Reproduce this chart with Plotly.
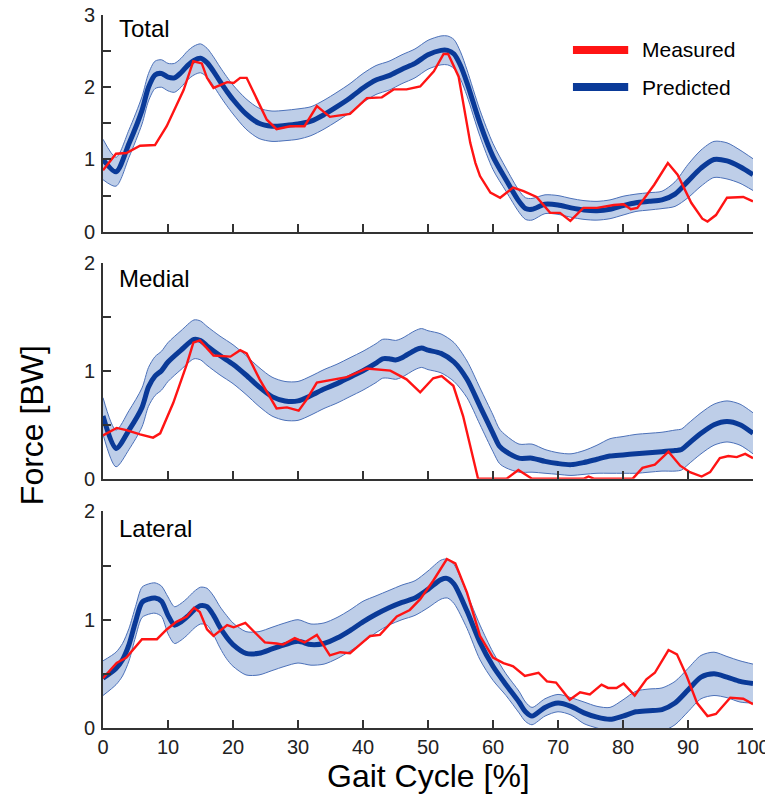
import plotly.graph_objects as go
from plotly.subplots import make_subplots

# ---------------- data ----------------
# Predicted (model) mean and half-width of the shaded band, Total force [BW]
total_pred_x = [0, 2, 4, 6, 7, 8, 9, 10, 11, 12, 13, 14, 15, 16, 17, 18, 19, 20, 22, 24, 26, 28,
                30, 32, 34, 36, 38, 40, 42, 44, 46, 48, 50, 52, 53, 54, 55, 56, 58, 60, 62, 64,
                65, 66, 68, 70, 72, 74, 76, 78, 80, 82, 84, 86, 88, 90, 92, 94, 96, 98, 100]
total_pred_y = [1.00, 0.83, 1.22, 1.68, 2.00, 2.17, 2.19, 2.14, 2.13, 2.20, 2.30, 2.37, 2.40, 2.34,
                2.22, 2.08, 1.95, 1.83, 1.63, 1.50, 1.46, 1.47, 1.49, 1.53, 1.62, 1.73, 1.85, 1.99,
                2.10, 2.16, 2.25, 2.33, 2.45, 2.51, 2.51, 2.46, 2.30, 2.06, 1.50, 1.04, 0.72, 0.42,
                0.32, 0.31, 0.38, 0.37, 0.33, 0.30, 0.29, 0.31, 0.36, 0.40, 0.42, 0.44, 0.52, 0.70,
                0.88, 1.00, 0.98, 0.90, 0.79]
total_pred_hw = [0.28, 0.20, 0.19, 0.19, 0.19, 0.19, 0.19, 0.19, 0.20, 0.20, 0.20, 0.20, 0.20, 0.20,
                 0.20, 0.20, 0.20, 0.20, 0.21, 0.21, 0.21, 0.21, 0.21, 0.20, 0.20, 0.20, 0.20, 0.20,
                 0.20, 0.20, 0.20, 0.20, 0.20, 0.20, 0.20, 0.20, 0.19, 0.18, 0.18, 0.18, 0.16, 0.15,
                 0.15, 0.15, 0.13, 0.13, 0.13, 0.13, 0.13, 0.13, 0.13, 0.12, 0.12, 0.12, 0.17, 0.23,
                 0.25, 0.25, 0.25, 0.23, 0.22]

# Measured Total force [BW]
total_meas_x = [0, 2, 3.6, 5.7, 8, 9.8, 12.4, 13.9, 15.2, 16, 17, 19.1, 20.1, 21.1, 22.1, 25.2, 26.7,
                28.8, 31, 32.9, 34.9, 38, 40.6, 42.9, 44.7, 46.7, 48.8, 50.9, 52.4, 53.1, 54.7, 55.6,
                56.5, 57.3, 58, 59.6, 61.1, 63.1, 64.7, 66.7, 68.8, 70.3, 71.9, 73.9, 76, 78.6, 80.1,
                81.2, 82.2, 84.8, 86.9, 88.4, 90.5, 92.2, 93, 94.3, 96, 98.5, 100]
total_meas_y = [0.85, 1.08, 1.09, 1.19, 1.20, 1.46, 1.96, 2.36, 2.33, 2.13, 1.99, 2.07, 2.06, 2.13,
                2.13, 1.55, 1.42, 1.46, 1.46, 1.74, 1.59, 1.63, 1.85, 1.86, 1.97, 1.97, 2.01, 2.22,
                2.46, 2.46, 2.15, 1.70, 1.23, 0.95, 0.77, 0.54, 0.47, 0.61, 0.56, 0.48, 0.26, 0.26,
                0.15, 0.33, 0.33, 0.37, 0.38, 0.31, 0.33, 0.65, 0.95, 0.79, 0.40, 0.18, 0.14, 0.23,
                0.47, 0.48, 0.42]

# Predicted Medial force [BW]
medial_pred_x = [0, 2, 4, 6, 7, 8, 9, 10, 12, 14, 15, 16, 18, 20, 22, 24, 26, 28, 30, 32, 34, 36,
                 38, 40, 42, 43, 44, 45, 46, 48, 49, 50, 52, 54, 56, 58, 60, 61, 62, 64, 66, 68,
                 70, 72, 74, 76, 78, 80, 82, 84, 86, 88, 89, 90, 92, 94, 96, 98, 100]
medial_pred_y = [0.58, 0.28, 0.45, 0.66, 0.85, 0.95, 1.00, 1.08, 1.19, 1.29, 1.28, 1.23, 1.14, 1.06,
                 0.96, 0.85, 0.76, 0.72, 0.72, 0.77, 0.83, 0.88, 0.94, 1.00, 1.07, 1.11, 1.11, 1.10,
                 1.12, 1.19, 1.21, 1.19, 1.16, 1.08, 0.92, 0.67, 0.42, 0.30, 0.25, 0.19, 0.19, 0.16,
                 0.14, 0.13, 0.15, 0.18, 0.21, 0.22, 0.23, 0.24, 0.25, 0.26, 0.27, 0.32, 0.42, 0.50,
                 0.53, 0.50, 0.42]
medial_pred_hw = [0.17, 0.17, 0.18, 0.18, 0.18, 0.18, 0.18, 0.18, 0.18, 0.18, 0.18, 0.18, 0.18, 0.18,
                  0.18, 0.18, 0.18, 0.18, 0.18, 0.18, 0.18, 0.18, 0.18, 0.18, 0.18, 0.18, 0.18, 0.18,
                  0.18, 0.18, 0.18, 0.18, 0.18, 0.18, 0.17, 0.17, 0.17, 0.16, 0.15, 0.13, 0.13, 0.11,
                  0.10, 0.10, 0.11, 0.13, 0.16, 0.17, 0.18, 0.18, 0.18, 0.19, 0.19, 0.19, 0.19, 0.19,
                  0.19, 0.19, 0.19]

# Measured Medial force [BW]
medial_meas_x = [0, 2.1, 3.6, 5.7, 7.7, 8.8, 10.8, 12.9, 13.9, 14.9, 17, 19.6, 21.1, 22.1, 24.1,
                 26.7, 28.3, 30.1, 31.3, 32.9, 37.5, 40.6, 44.2, 46.7, 48.8, 50.8, 52.1, 53.9, 55.4,
                 56.7, 57.7, 62.1, 63.9, 66, 74, 74.7, 75.5, 81.5, 83, 84.9, 87, 88.8, 90.3, 92.1,
                 93.4, 94.9, 96.2, 97.5, 98.8, 100]
medial_meas_y = [0.40, 0.47, 0.45, 0.41, 0.38, 0.42, 0.70, 1.06, 1.26, 1.28, 1.14, 1.13, 1.19, 1.16,
                 0.92, 0.65, 0.66, 0.63, 0.73, 0.89, 0.94, 1.02, 1.00, 0.92, 0.80, 0.93, 0.95, 0.86,
                 0.58, 0.24, 0.00, 0.00, 0.08, 0.00, 0.00, 0.02, 0.00, 0.00, 0.10, 0.13, 0.25, 0.12,
                 0.06, 0.02, 0.06, 0.19, 0.21, 0.20, 0.23, 0.19]

# Predicted Lateral force [BW]
lateral_pred_x = [0, 2, 3, 4, 5, 6, 7, 8, 9, 10, 11, 12, 13, 14, 15, 16, 17, 18, 19, 20, 22, 24, 26,
                  28, 30, 32, 34, 36, 38, 40, 42, 44, 46, 48, 50, 52, 53, 54, 56, 58, 60, 62, 64,
                  65, 66, 68, 70, 72, 74, 76, 78, 80, 82, 84, 86, 88, 90, 92, 94, 96, 98, 100]
lateral_pred_y = [0.46, 0.55, 0.63, 0.77, 0.98, 1.16, 1.19, 1.20, 1.17, 1.04, 0.95, 0.98, 1.03, 1.09,
                  1.13, 1.12, 1.04, 0.93, 0.84, 0.77, 0.69, 0.69, 0.73, 0.77, 0.80, 0.77, 0.78, 0.83,
                  0.90, 0.98, 1.05, 1.11, 1.16, 1.20, 1.28, 1.37, 1.38, 1.33, 1.08, 0.79, 0.57, 0.40,
                  0.24, 0.15, 0.11, 0.19, 0.23, 0.20, 0.14, 0.10, 0.08, 0.11, 0.15, 0.16, 0.17, 0.23,
                  0.35, 0.47, 0.50, 0.47, 0.43, 0.41]
lateral_pred_hw = [0.16, 0.15, 0.15, 0.15, 0.14, 0.14, 0.14, 0.14, 0.14, 0.17, 0.17, 0.17, 0.17, 0.17,
                   0.17, 0.17, 0.18, 0.19, 0.20, 0.20, 0.20, 0.20, 0.20, 0.20, 0.20, 0.19, 0.19, 0.19,
                   0.19, 0.19, 0.17, 0.16, 0.16, 0.16, 0.17, 0.18, 0.18, 0.18, 0.16, 0.16, 0.13, 0.10,
                   0.10, 0.09, 0.08, 0.08, 0.08, 0.08, 0.10, 0.10, 0.11, 0.15, 0.19, 0.20, 0.20, 0.20,
                   0.20, 0.20, 0.20, 0.19, 0.19, 0.18]

# Measured Lateral force [BW]
lateral_meas_x = [0, 2.1, 3.6, 6, 8.3, 9.8, 11.3, 12.9, 14, 14.9, 16, 17, 19.1, 20.1, 21.9, 24.9,
                  26.7, 27.7, 29.5, 31, 32.9, 34.9, 36.5, 38, 41.1, 42.6, 45.2, 47.2, 48.8, 50.8,
                  52.9, 54.2, 56, 58, 60, 61.6, 63.1, 64.9, 67, 68.3, 69.7, 71.8, 73.4, 74.9, 76.7,
                  77.7, 79, 80.1, 81.8, 83.6, 84.9, 87, 88.3, 89.8, 91.4, 93, 94.3, 96.5, 98.5, 100]
lateral_meas_y = [0.46, 0.60, 0.65, 0.82, 0.82, 0.91, 0.98, 1.03, 1.11, 1.07, 0.91, 0.85, 0.95, 0.93,
                  0.97, 0.79, 0.78, 0.77, 0.83, 0.79, 0.86, 0.67, 0.70, 0.69, 0.85, 0.86, 1.03, 1.09,
                  1.19, 1.36, 1.56, 1.52, 1.25, 0.85, 0.65, 0.60, 0.57, 0.48, 0.51, 0.43, 0.42, 0.26,
                  0.33, 0.31, 0.40, 0.37, 0.37, 0.41, 0.30, 0.45, 0.51, 0.72, 0.68, 0.48, 0.23, 0.11,
                  0.13, 0.28, 0.27, 0.22]

panel_names = ["Total", "Medial", "Lateral"]
panel_ymax = [3, 2, 2]
x_ticks = [0, 10, 20, 30, 40, 50, 60, 70, 80, 90, 100]
legend_labels = ["Measured", "Predicted"]

# ---------------- styling ----------------
FONT = "Liberation Sans, Arial, Helvetica, sans-serif"
RED = "#ff1414"
BLUE = "#0a3a98"
BAND_FILL = "rgba(172,192,226,0.78)"
BAND_EDGE = "#4b70b8"
AXIS = "#333333"

panels = [
    (total_pred_x, total_pred_y, total_pred_hw, total_meas_x, total_meas_y),
    (medial_pred_x, medial_pred_y, medial_pred_hw, medial_meas_x, medial_meas_y),
    (lateral_pred_x, lateral_pred_y, lateral_pred_hw, lateral_meas_x, lateral_meas_y),
]

fig = make_subplots(rows=3, cols=1, shared_xaxes=False, vertical_spacing=0.0)

# vertical placement of the three panels (paper fractions)
domains = [[0.6961, 1.0], [0.3497, 0.6526], [0.0, 0.3038]]

for i, (px, py, hw, mx, my) in enumerate(panels):
    row = i + 1
    upper = [v + h for v, h in zip(py, hw)]
    lower = [v - h for v, h in zip(py, hw)]
    fig.add_trace(go.Scatter(x=px, y=lower, mode="lines",
                             line=dict(color=BAND_EDGE, width=1, shape="spline", smoothing=0.8),
                             hoverinfo="skip", showlegend=False), row=row, col=1)
    fig.add_trace(go.Scatter(x=px, y=upper, mode="lines", fill="tonexty", fillcolor=BAND_FILL,
                             line=dict(color=BAND_EDGE, width=1, shape="spline", smoothing=0.8),
                             hoverinfo="skip", showlegend=False), row=row, col=1)
    fig.add_trace(go.Scatter(x=px, y=py, mode="lines", name="Predicted",
                             line=dict(color=BLUE, width=5, shape="spline", smoothing=0.8),
                             showlegend=False), row=row, col=1)
    fig.add_trace(go.Scatter(x=mx, y=my, mode="lines", name="Measured",
                             line=dict(color=RED, width=2.4),
                             showlegend=False), row=row, col=1)

    ymax = panel_ymax[i]
    yvals = [k * 0.5 for k in range(int(ymax * 2) + 1)]
    ytext = [str(int(v)) if v == int(v) else "" for v in yvals]
    fig.update_yaxes(range=[0, ymax], domain=domains[i], tickvals=yvals, ticktext=ytext,
                     ticks="inside", ticklen=8, tickwidth=2, tickcolor=AXIS,
                     showline=True, linecolor=AXIS, linewidth=2, showgrid=False, zeroline=False,
                     automargin=False, ticklabelstandoff=2,
                     tickfont=dict(family=FONT, size=20, color="#222222"),
                     row=row, col=1)
    fig.update_xaxes(range=[0, 100], tickvals=x_ticks, ticktext=[str(t) for t in x_ticks],
                     showticklabels=(row == 3), automargin=False, ticklabeloverflow="allow",
                     ticks="inside", ticklen=8, tickwidth=2, tickcolor=AXIS,
                     showline=True, linecolor=AXIS, linewidth=2, showgrid=False, zeroline=False,
                     tickfont=dict(family=FONT, size=20, color="#222222"),
                     row=row, col=1)
    # panel name in the upper-left corner
    xref = "x domain" if row == 1 else f"x{row} domain"
    yref = "y domain" if row == 1 else f"y{row} domain"
    fig.add_annotation(text=panel_names[i], xref=xref, yref=yref,
                       x=0.022, y=[0.94, 0.928, 0.92][i], xanchor="left", yanchor="middle",
                       showarrow=False, font=dict(family=FONT, size=24, color="black"))

# legend drawn as line samples with labels
legend_colors = [RED, BLUE]
legend_y = [0.951, 0.899]
for label, col, ly in zip(legend_labels, legend_colors, legend_y):
    fig.add_shape(type="line", xref="paper", yref="paper", x0=0.723, x1=0.808, y0=ly, y1=ly,
                  line=dict(color=col, width=8))
    fig.add_annotation(text=label, xref="paper", yref="paper", x=0.826, y=ly,
                       xanchor="left", yanchor="middle", showarrow=False,
                       font=dict(family=FONT, size=21, color="black"))

# axis titles
fig.add_annotation(text="Force [BW]", xref="paper", yref="paper", x=-0.109, y=0.425,
                   textangle=-90, xanchor="center", yanchor="middle", showarrow=False,
                   font=dict(family=FONT, size=32, color="black"))
fig.add_annotation(text="Gait Cycle [%]", xref="paper", yref="paper", x=0.5015, y=-0.067,
                   xanchor="center", yanchor="middle", showarrow=False,
                   font=dict(family=FONT, size=32, color="black"))

fig.update_layout(width=765, height=799, margin=dict(l=103, r=12, t=15, b=71),
                  paper_bgcolor="white", plot_bgcolor="white", showlegend=False,
                  font=dict(family=FONT))

fig.write_html("out.html")
